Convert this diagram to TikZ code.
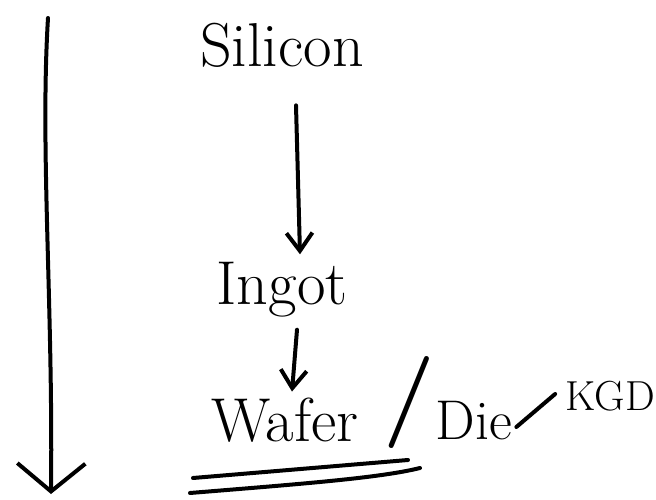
\documentclass[tikz,border=0pt]{standalone}
\usetikzlibrary{arrows.meta}
\begin{document}
\begin{tikzpicture}[x=1pt,y=-1pt,
  ink/.style={line width=4pt,line cap=round,line join=round},
  word/.style={inner sep=0pt,font=\fontsize{62}{66}\selectfont},
  small/.style={inner sep=0pt,font=\fontsize{42}{46}\selectfont},
  barb/.style={-{Straight Barb[length=18pt,width=26pt,line width=4pt]}}]
\useasboundingbox (0,0) rectangle (656,500);

% process stages
\node[word] (silicon) at (282,45) {Silicon};
\node[word] (ingot)   at (282,290) {Ingot};
\node[word] (wafer)   at (285,420) {Wafer};
\node[inner sep=0pt,font=\fontsize{92}{96}\selectfont\bfseries] (slash) at (409,402) {/};
\node[inner sep=0pt,font=\fontsize{56}{60}\selectfont] (die) at (474,421) {Die};
\node[small] (kgd)    at (610,396) {KGD};

% flow arrows between stages
\draw[ink,barb] ([xshift=14pt,yshift=-38pt]silicon.south) -- ([xshift=18pt,yshift=8pt]ingot.north);
\draw[ink,barb] ([xshift=15pt,yshift=-12pt]ingot.south) -- ([xshift=7pt,yshift=6pt]wafer.north);

% link from die to known good die
\draw[ink] ([xshift=4pt,yshift=-6pt]die.east) -- ([xshift=-10pt,yshift=2pt]kgd.west);

% double underline below the wafer
\coordinate (u1a) at (193,478);
\coordinate (u1b) at (408,460);
\coordinate (u2a) at (190,493);
\coordinate (u2b) at (420,468);
\draw[ink] (u1a) -- (u1b);
\draw[ink] (u2a) .. controls (300,484) and (380,478) .. (u2b);

% overall direction arrow on the left
\coordinate (top) at (48,18);
\coordinate (bottom) at (51,494);
\draw[ink,-{Straight Barb[length=28pt,width=68pt,line width=4pt]}]
  (top) .. controls (40,150) and (53,300) .. (bottom);
\end{tikzpicture}
\end{document}
